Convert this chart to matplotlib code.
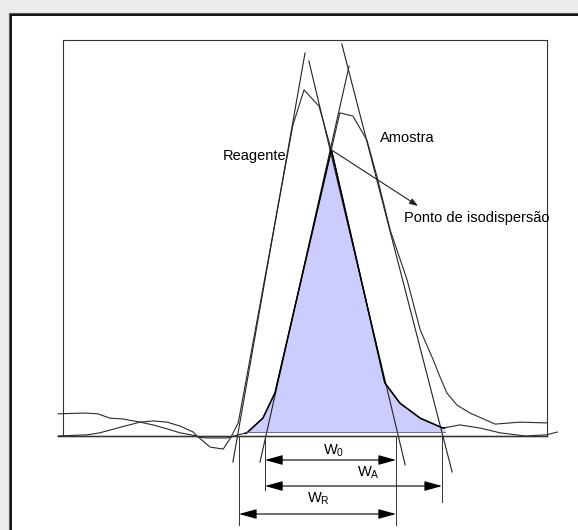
import numpy as np
import matplotlib.pyplot as plt
from matplotlib.patches import Rectangle, FancyArrowPatch, ArrowStyle

plt.rcParams['font.family'] = ['Liberation Sans', 'DejaVu Sans']
plt.rcParams['mathtext.fontset'] = 'custom'
plt.rcParams['mathtext.rm'] = 'Liberation Sans'
plt.rcParams['mathtext.it'] = 'Liberation Sans'

# --- recorded traces (time axis 0-100, signal in % of full scale) ---
reag_x = [-1.0, 4.5, 7.2, 9.7, 12.4, 15.9, 18.6, 21.5, 24.2, 27.7, 30.4, 33.1, 34.7, 36.2,
          38.6, 47.5, 49.8, 52.9, 55.6, 66.5, 69.6, 73.8, 78.5, 82.0, 86.2, 90.3, 95.5,
          100.0, 102.1]
reag_y = [5.6, 5.8, 5.6, 4.5, 4.3, 3.5, 2.8, 1.8, 0.8, 0.0, -2.8, -3.3, -0.3, 3.3,
          19.2, 78.5, 87.4, 83.3, 71.5, 13.4, 8.3, 4.5, 2.0, 2.8, 2.0, 0.8, 0.0,
          0.3, 1.0]

amos_x = [-1.0, 5.0, 7.6, 11.2, 15.9, 18.6, 21.5, 24.2, 26.9, 27.9, 29.8, 33.9, 36.2, 38.0,
          41.3, 43.8, 57.2, 59.9, 62.8, 64.9, 67.6, 71.1, 73.8, 76.5, 77.9, 79.3, 81.4,
          84.1, 89.3, 94.4, 100.0]
amos_y = [0.0, 0.3, 0.8, 2.0, 3.5, 3.8, 3.5, 2.5, 1.0, -0.3, -0.5, -0.5, 0.3, 0.8,
          4.5, 10.9, 81.6, 80.8, 74.7, 65.4, 52.0, 39.4, 26.8, 19.2, 14.9, 10.9, 7.8,
          5.8, 3.0, 3.5, 3.3]

# tangents to the peak flanks: [x0, x1], [y0, y1]
tan_reag_left = ([50.0, 35.1], [96.7, -6.6])
tan_reag_right = ([50.8, 70.7], [94.7, -7.3])
tan_amos_left = ([59.1, 40.7], [93.4, -6.6])
tan_amos_right = ([57.6, 80.4], [99.0, -9.1])

# peak widths measured on the baseline
width_names = ['0', 'A', 'R']
width_left = [41.74, 41.74, 36.36]
width_right = [68.80, 78.31, 68.80]

# overlap region between the two traces
overlap_start = 37.6
overlap_end = 78.9
overlap_base = 1.0

line_col = '#2b2b2b'

fig = plt.figure(figsize=(5.78, 5.30), dpi=100, facecolor='#ececec')

# double frame round the sheet
fig.patches.append(Rectangle((8.5 / 578, -0.1), 1.2, 1.1 - 12.5 / 530, transform=fig.transFigure,
                             facecolor='white', edgecolor='#555555', lw=0.8, zorder=-2))
fig.patches.append(Rectangle((11 / 578, -0.1), 1.2, 1.1 - 15 / 530, transform=fig.transFigure,
                             facecolor='none', edgecolor='black', lw=1.3, zorder=-1))

ax = fig.add_axes([63 / 578, 94 / 530, 484 / 578, 396 / 530])
ax.set_zorder(1)
ax.set_xlim(0, 100)
ax.set_ylim(0, 100)
ax.set_facecolor('white')
ax.set_xticks([])
ax.set_yticks([])
for s in ax.spines.values():
    s.set_color('#333333')
    s.set_linewidth(0.8)

# shaded overlap = area under the lower of the two traces
xs = np.linspace(overlap_start, overlap_end, 600)
low = np.minimum(np.interp(xs, reag_x, reag_y), np.interp(xs, amos_x, amos_y))
ax.fill_between(xs, overlap_base, low, color='#ccccff', lw=0, zorder=1)
ax.plot(xs, low, color='black', lw=1.1, zorder=3)
ax.plot([overlap_start, overlap_end], [overlap_base, overlap_base], color='#555577', lw=0.6, zorder=3)

# baseline
ax.plot([reag_x[0], 100], [0, 0], color='black', lw=1.0, clip_on=False, zorder=2)

# traces
ax.plot(reag_x, reag_y, color=line_col, lw=0.8, clip_on=False, zorder=2)
ax.plot(amos_x, amos_y, color=line_col, lw=0.8, clip_on=False, zorder=2)

# tangents
for tx, ty in [tan_reag_left, tan_reag_right, tan_amos_left, tan_amos_right]:
    ax.plot(tx, ty, color='#222222', lw=0.8, clip_on=False, zorder=2)

# isodispersion point: where the falling reagent flank crosses the rising sample flank
xx = np.linspace(50, 60, 2001)
diff = np.interp(xx, reag_x, reag_y) - np.interp(xx, amos_x, amos_y)
i = np.where(np.diff(np.sign(diff)) != 0)[0][0]
iso_x = xx[i]
iso_y = np.interp(iso_x, reag_x, reag_y)

arr = FancyArrowPatch((iso_x, iso_y), (73.35, 58.1), arrowstyle=ArrowStyle('-|>', head_length=5, head_width=1.8),
                      mutation_scale=1, color='#222222', lw=0.8, shrinkA=0, shrinkB=0, zorder=4)
ax.add_patch(arr)

ax.text(33.0, 69.7, 'Reagente', fontsize=10.5, ha='left', va='baseline')
ax.text(65.5, 74.2, 'Amostra', fontsize=10.5, ha='left', va='baseline')
ax.text(70.45, 54.0, 'Ponto de isodispersão', fontsize=10.5, ha='left', va='baseline')

# dimension lines under the baseline
ext_x = [36.36, 41.74, 68.80, 78.31]
ext_bottom = [-22.5, -13.6, -22.5, -16.7]
for x, yb in zip(ext_x, ext_bottom):
    ax.plot([x, x], [-0.2, yb], color='#333333', lw=0.7, clip_on=False, zorder=2)

arrow_y = [-6.06, -12.63, -19.70]
label_x = [53.7, 60.7, 50.4]
label_y = [-4.8, -10.35, -16.9]
head = ArrowStyle('<|-|>', head_length=10.8, head_width=3.0)
for name, xl, xr, ya, lx, ly in zip(width_names, width_left, width_right, arrow_y, label_x, label_y):
    ax.add_patch(FancyArrowPatch((xl, ya), (xr, ya), arrowstyle=head, mutation_scale=1,
                                 color='black', lw=0.8, shrinkA=0, shrinkB=0, clip_on=False, zorder=4))
    ax.text(lx, ly, r'$\mathrm{W_%s}$' % name, fontsize=10.5, ha='left', va='baseline')

fig.savefig('out.png', dpi=100, facecolor=fig.get_facecolor())
